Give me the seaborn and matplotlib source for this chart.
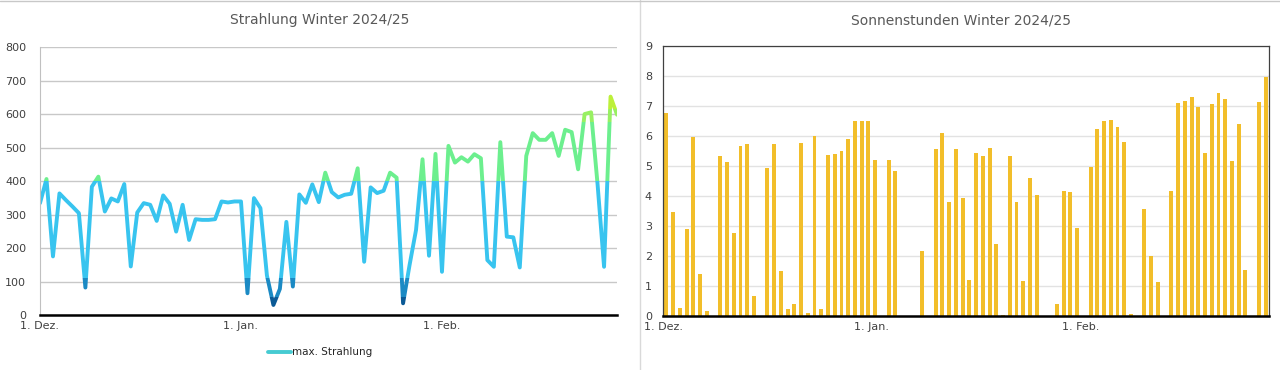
import matplotlib.pyplot as plt
import numpy as np
import pandas as pd
import seaborn as sns
from matplotlib.lines import Line2D
from matplotlib.patches import Rectangle

# one value per day, 1 Dec 2024 .. 28 Feb 2025
tage = pd.date_range("2024-12-01", "2025-02-28", freq="D")

strahlung = [
    334, 406, 175, 363, 343, 324, 304, 82, 383, 413,
    309, 348, 339, 391, 145, 306, 334, 329, 281, 357,
    332, 249, 329, 224, 286, 284, 284, 286, 339, 336,
    339, 339, 65, 349, 319, 118, 30, 78, 278, 85,
    360, 335, 390, 337, 425, 367, 351, 359, 362, 438,
    159, 381, 364, 371, 425, 410, 35, 149, 254, 465,
    177, 481, 129, 505, 455, 471, 458, 480, 468, 164,
    144, 516, 234, 232, 142, 475, 543, 523, 523, 543,
    475, 553, 546, 435, 600, 605, 390, 144, 652, 598,
]

sonnenstunden = [
    6.78, 3.48, 0.28, 2.89, 5.98, 1.39, 0.17, 0, 5.34, 5.12,
    2.76, 5.68, 5.73, 0.68, 0, 4.94, 5.72, 1.51, 0.24, 0.4,
    5.78, 0.1, 6.0, 0.22, 5.37, 5.4, 5.49, 5.9, 6.5, 6.5,
    6.5, 5.2, 0, 5.2, 4.83, 0, 0, 0, 2.17, 0,
    5.56, 6.11, 3.81, 5.56, 3.94, 1.2, 5.42, 5.34, 5.59, 2.4,
    0.03, 5.33, 3.81, 1.17, 4.59, 4.03, 0, 0, 0.39, 4.17,
    4.14, 2.92, 0, 4.98, 6.23, 6.5, 6.53, 6.29, 5.79, 0.06,
    0, 3.56, 2.01, 1.12, 0, 4.17, 7.11, 7.17, 7.31, 6.98,
    5.42, 7.07, 7.42, 7.23, 5.18, 6.39, 1.53, 0, 7.14, 7.98,
]

monats_ticks = pd.to_datetime(["2024-12-01", "2025-01-01", "2025-02-01"])
monats_labels = ["1. Dez.", "1. Jan.", "1. Feb."]

# colour bands of the gradient line: (from, to, colour)
baender = [
    (-100, 55, "#0b5a96"),
    (55, 110, "#1b8ac4"),
    (110, 400, "#38c4ef"),
    (400, 575, "#6cef8e"),
    (575, 615, "#98f062"),
    (615, 1000, "#bcf03a"),
]

df = pd.DataFrame({"Datum": tage, "Strahlung": strahlung,
                   "Tag": tage.strftime("%d.%m."), "Sonne": sonnenstunden})

sns.set_style("white")
plt.rcParams["font.family"] = ["DejaVu Sans"]

fig = plt.figure(figsize=(12.8, 3.7), dpi=100)
ax1 = fig.add_axes([0.03125, 0.1486, 0.4508, 0.7243])
ax2 = fig.add_axes([0.518, 0.1459, 0.4734, 0.7297])

# left: radiation line, drawn once per colour band and clipped to it
for lo, hi, farbe in baender:
    sns.lineplot(data=df, x="Datum", y="Strahlung", color=farbe, lw=2.8, ax=ax1)
    clip = Rectangle((0, lo), 1, hi - lo, transform=ax1.get_yaxis_transform())
    ax1.lines[-1].set_clip_path(clip)

ax1.set_ylim(0, 800)
ax1.set_yticks(np.arange(0, 801, 100))
ax1.set_xlim(tage[0], tage[-1])
ax1.set_xticks(monats_ticks)
ax1.set_xticklabels(monats_labels)
ax1.set_xlabel("")
ax1.set_ylabel("")
ax1.grid(axis="y", color="#c8c8c8", lw=1)
ax1.set_axisbelow(True)
for s in ["top", "right"]:
    ax1.spines[s].set_visible(False)
ax1.spines["left"].set_color("#c0c0c0")
ax1.spines["left"].set_linewidth(0.8)
ax1.spines["bottom"].set_color("black")
ax1.spines["bottom"].set_linewidth(1.8)
ax1.tick_params(axis="x", direction="inout", length=6, width=1.4, color="black",
                labelsize=8, labelcolor="#404040", pad=1)
ax1.tick_params(axis="y", length=0, labelsize=8, labelcolor="#404040", pad=10)

fig.legend(handles=[Line2D([], [], color="#46cbd2", lw=2.8)], labels=["max. Strahlung"],
           loc="center", bbox_to_anchor=(0.25, 0.048), frameon=False, fontsize=7.5,
           handlelength=2.2, handletextpad=0.1)

# right: sunshine hours as thin bars
sns.barplot(data=df, x="Tag", y="Sonne", color="#f2be2a", saturation=1, width=0.58,
            errorbar=None, linewidth=0, ax=ax2)
ax2.set_ylim(0, 9)
ax2.set_yticks(np.arange(0, 10, 1))
ax2.set_xlim(-0.5, len(tage) - 0.5)
ax2.set_xticks([-0.5, 30.5, 61.5, len(tage) - 0.5])
ax2.set_xticklabels(monats_labels + [""])
ax2.set_xlabel("")
ax2.set_ylabel("")
ax2.grid(axis="y", color="#e2e2e2", lw=1)
ax2.set_axisbelow(True)
for s in ["top", "right", "left"]:
    ax2.spines[s].set_color("#404040")
    ax2.spines[s].set_linewidth(0.9)
ax2.spines["bottom"].set_color("black")
ax2.spines["bottom"].set_linewidth(1.8)
ax2.tick_params(axis="x", direction="inout", length=6, width=1.4, color="black",
                labelsize=8, labelcolor="#404040", pad=1)
ax2.tick_params(axis="y", length=0, labelsize=8, labelcolor="#404040", pad=8)

# titles and panel separators
fig.text(0.25, 0.945, "Strahlung Winter 2024/25", ha="center", va="center",
         fontsize=10, color="#595959")
fig.text(0.751, 0.945, "Sonnenstunden Winter 2024/25", ha="center", va="center",
         fontsize=10, color="#595959")
fig.add_artist(Line2D([0.5, 0.5], [0, 1], transform=fig.transFigure, color="#d9d9d9", lw=1))
fig.add_artist(Line2D([0, 1], [0.998, 0.998], transform=fig.transFigure, color="#c8c8c8", lw=1))

fig.savefig("out.png", dpi=100)
